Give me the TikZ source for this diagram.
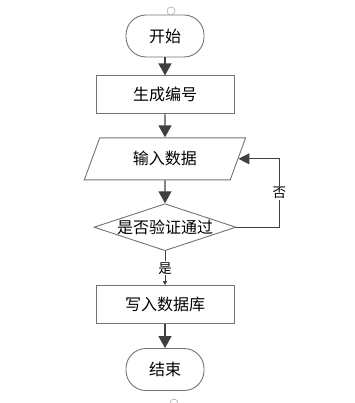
\documentclass[tikz,border=0pt]{standalone}
\usepackage{fontspec}
\newfontfamily\cjk{Noto Sans CJK SC}
\usepackage{tikz}
\usetikzlibrary{positioning}
\usetikzlibrary{shapes.geometric}
\usetikzlibrary{arrows.meta}
\begin{document}
\begin{tikzpicture}[x=1pt, y=-1pt,
    font=\cjk\fontsize{16}{18}\selectfont,
    box/.style={draw=black!55, line width=0.9pt, rectangle, minimum width=138pt, minimum height=38pt, inner sep=0pt},
    term/.style={draw=black!55, line width=0.9pt, rectangle, rounded corners=20pt, minimum width=78pt, minimum height=42pt, inner sep=0pt},
    io/.style={draw=black!55, line width=0.9pt, trapezium, trapezium left angle=63, trapezium right angle=117, trapezium stretches=true, minimum width=162pt, minimum height=42pt, inner sep=0pt},
    test/.style={draw=black!55, line width=0.9pt, diamond, aspect=3, minimum width=142pt, minimum height=47pt, inner sep=0pt},
    knob/.style={draw=black!45, circle, fill=white, minimum size=8pt, inner sep=0pt},
    flow/.style={draw=black!75, line width=1.4pt, -{Triangle[length=12pt,width=13pt]}},
    tag/.style={fill=white, inner sep=1pt, font=\cjk\fontsize{13.5}{15}\selectfont}
]
    \useasboundingbox (0,0) rectangle (354,403);

    \node [term] (start) at (165,36) {开始};
    \node [box, below=18pt of start] (gen) {生成编号};
    \node [io, below=23pt of gen] (input) {输入数据};
    \node [test, below=23pt of input] (check) {是否验证通过};
    \node [box, below=34pt of check] (write) {写入数据库};
    \node [term, below=24pt of write] (stop) {结束};

    \node [knob] (topknob) at (171,11) {};
    \node [knob] (botknob) at (174,403) {};

    \coordinate [right=43pt of check.east] (turn);

    \draw [flow] (start) -- (gen);
    \draw [flow] (gen) -- (input);
    \draw [flow] (input) -- (check);
    \draw [draw=black!75, line width=1pt, -{Triangle[length=4pt,width=4pt]}] (check) -- node[tag] (yes) {是} (write);
    \draw [flow] (write) -- (stop);
    \draw [draw=black!75, line width=1pt, -{Triangle[length=11pt,width=11pt]}] (check.east) -- (turn) |- node[tag, pos=0.25] (no) {否} (input.east);
\end{tikzpicture}
\end{document}
